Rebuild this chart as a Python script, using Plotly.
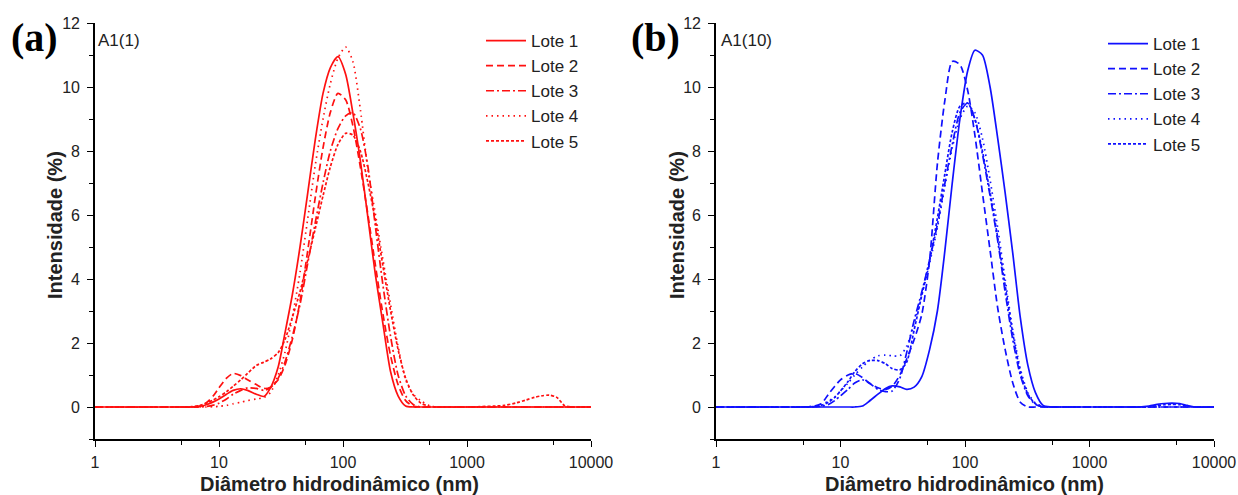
import plotly.graph_objects as go

# Diameter grid (nm)
D = [1, 5, 6, 7, 8, 9, 10, 11.5, 13, 15, 17, 20, 23, 26, 30, 34, 39, 45, 52, 60,
     69, 79, 91, 105, 120, 138, 159, 183, 210, 242, 278, 320, 368, 424, 488, 561,
     646, 1000, 2000, 2500, 3000, 3500, 4000, 4600, 5300, 6100, 7000, 10000]

SERIES_NAMES = ["Lote 1", "Lote 2", "Lote 3", "Lote 4", "Lote 5"]

# Panel (a) A1(1)
A_L1 = [0, 0, 0, 0.02, 0.08, 0.16, 0.25, 0.4, 0.52, 0.57, 0.52, 0.4, 0.33, 0.6, 1.25, 2.3, 3.5, 5.0, 6.7, 8.4,
        9.8, 10.6, 10.95, 10.4, 9.2, 7.7, 5.9, 4.1, 2.6, 1.1, 0.35, 0.03, 0, 0, 0, 0,
        0, 0, 0, 0, 0, 0, 0, 0, 0, 0, 0, 0]
A_L2 = [0, 0, 0, 0.03, 0.15, 0.35, 0.6, 0.9, 1.05, 0.98, 0.85, 0.7, 0.58, 0.62, 0.85, 1.3, 2.1, 3.3, 4.9, 6.6,
        8.1, 9.2, 9.8, 9.6, 8.8, 7.5, 6.0, 4.4, 2.9, 1.6, 0.7, 0.2, 0.03, 0, 0, 0,
        0, 0, 0, 0, 0, 0, 0, 0, 0, 0, 0, 0]
A_L3 = [0, 0, 0, 0, 0.02, 0.06, 0.12, 0.25, 0.4, 0.52, 0.6, 0.58, 0.52, 0.6, 0.9, 1.4, 2.2, 3.2, 4.5, 5.8,
        7.0, 8.0, 8.7, 9.1, 9.2, 8.7, 7.5, 5.6, 3.8, 2.2, 1.0, 0.35, 0.08, 0, 0, 0,
        0, 0, 0, 0, 0, 0, 0, 0, 0, 0, 0, 0]
A_L4 = [0, 0, 0, 0, 0, 0.01, 0.02, 0.05, 0.1, 0.15, 0.2, 0.25, 0.3, 0.45, 1.0, 1.7, 2.8, 4.2, 5.9, 7.6,
        9.0, 10.1, 10.9, 11.25, 10.8, 9.3, 7.4, 6.0, 4.6, 3.2, 1.9, 0.85, 0.4, 0.2, 0.06, 0,
        0, 0, 0, 0, 0, 0, 0, 0, 0, 0, 0, 0]
A_L5 = [0, 0, 0.01, 0.05, 0.12, 0.22, 0.32, 0.48, 0.65, 0.85, 1.05, 1.3, 1.4, 1.5, 1.7, 2.1, 2.8, 3.6, 4.6, 5.6,
        6.6, 7.5, 8.2, 8.55, 8.5, 8.0, 7.0, 5.8, 4.4, 3.0, 1.8, 0.9, 0.38, 0.12, 0.03, 0,
        0, 0, 0.05, 0.13, 0.22, 0.3, 0.35, 0.37, 0.3, 0.05, 0, 0]

# Panel (b) A1(10)
B_L1 = [0, 0, 0, 0, 0, 0, 0, 0, 0, 0.03, 0.18, 0.4, 0.58, 0.66, 0.63, 0.55, 0.62, 0.95, 1.8, 3.0,
        4.9, 7.0, 9.0, 10.5, 11.15, 11.0, 10.0, 8.4, 6.7, 4.8, 2.8, 1.3, 0.45, 0.05, 0, 0,
        0, 0, 0, 0, 0.03, 0.08, 0.11, 0.12, 0.11, 0.05, 0, 0]
B_L2 = [0, 0, 0.02, 0.1, 0.4, 0.65, 0.85, 1.0, 1.05, 0.92, 0.75, 0.6, 0.55, 0.65, 1.0, 1.5, 2.1, 2.9, 4.6, 7.6,
        9.6, 10.8, 10.7, 9.9, 8.5, 6.7, 4.9, 3.1, 1.8, 0.75, 0.15, 0, 0, 0, 0, 0,
        0, 0, 0, 0, 0, 0, 0, 0, 0, 0, 0, 0]
B_L3 = [0, 0, 0, 0.02, 0.08, 0.2, 0.35, 0.55, 0.75, 0.85, 0.75, 0.55, 0.48, 0.5, 0.9, 1.7, 2.7, 3.6, 4.6, 5.7,
        7.0, 8.2, 9.2, 9.5, 9.0, 7.9, 6.6, 5.2, 3.6, 2.1, 1.0, 0.35, 0.08, 0, 0, 0,
        0, 0, 0, 0, 0, 0, 0, 0, 0, 0, 0, 0]
B_L4 = [0, 0, 0.02, 0.08, 0.18, 0.32, 0.5, 0.75, 1.0, 1.25, 1.45, 1.6, 1.62, 1.6, 1.6, 1.9, 2.6, 3.5, 4.5, 5.6,
        6.9, 8.1, 9.0, 9.4, 9.2, 8.4, 7.1, 5.6, 4.0, 2.4, 1.2, 0.45, 0.12, 0.02, 0, 0,
        0, 0, 0, 0, 0, 0, 0, 0, 0, 0, 0, 0]
B_L5 = [0, 0, 0.01, 0.05, 0.15, 0.3, 0.5, 0.8, 1.1, 1.35, 1.45, 1.45, 1.35, 1.2, 1.16, 1.4, 2.4, 3.5, 4.6, 5.9,
        7.3, 8.6, 9.4, 9.5, 9.0, 8.0, 6.7, 5.3, 3.8, 2.3, 1.1, 0.4, 0.1, 0.01, 0, 0,
        0, 0, 0, 0, 0, 0.04, 0.07, 0.08, 0.07, 0.02, 0, 0]

X_TICKS = [1, 10, 100, 1000, 10000]
X_TICKTEXT = ["1", "10", "100", "1000", "10000"]
X_MINOR = [5, 50, 500, 5000]

RED = "#ff1010"
BLUE = "#1010ff"
DASHES = ["solid", "7px,4px", "8px,3px,2px,3px", "1.5px,4px", "3px,2px"]

W, H = 1238, 495
MT, MB = 23, 56
PH = H - MT - MB

def py(px):
    return (H - MB - px) / PH

fig = go.Figure()
for name, vals, dash in zip(SERIES_NAMES, [A_L1, A_L2, A_L3, A_L4, A_L5], DASHES):
    fig.add_trace(go.Scatter(x=D, y=vals, mode="lines", name=name, xaxis="x", yaxis="y",
                             legend="legend",
                             line=dict(color=RED, width=1.7, dash=dash, shape="spline", smoothing=0.7)))
for name, vals, dash in zip(SERIES_NAMES, [B_L1, B_L2, B_L3, B_L4, B_L5], DASHES):
    fig.add_trace(go.Scatter(x=D, y=vals, mode="lines", name=name, xaxis="x2", yaxis="y2",
                             legend="legend2",
                             line=dict(color=BLUE, width=1.7, dash=dash, shape="spline", smoothing=0.7)))

FONT = "Liberation Sans, Arial, sans-serif"

def xax(domain, anchor):
    return dict(type="log", range=[0, 4], domain=domain, anchor=anchor,
                showline=True, linecolor="black", linewidth=1.6, mirror=False,
                ticks="outside", ticklen=6, tickwidth=1.4, tickcolor="black",
                tickmode="array", tickvals=X_TICKS, ticktext=X_TICKTEXT,
                minor=dict(tickmode="array", tickvals=X_MINOR, ticks="outside", ticklen=4,
                           tickwidth=1.2, tickcolor="black", showgrid=False),
                showgrid=False, zeroline=False, automargin=False,
                tickfont=dict(family=FONT, size=16, color="#222"), ticklabelstandoff=2)

def yax(domain, anchor):
    return dict(range=[-1, 12], domain=domain, anchor=anchor,
                showline=True, linecolor="black", linewidth=1.6,
                ticks="outside", ticklen=6, tickwidth=1.4, tickcolor="black",
                tick0=0, dtick=2,
                minor=dict(dtick=1, tick0=-1, ticks="outside", ticklen=4, tickwidth=1.2,
                           tickcolor="black", showgrid=False),
                showgrid=False, zeroline=False, automargin=False,
                tickfont=dict(family=FONT, size=16, color="#222"), ticklabelstandoff=4)

XA = [95 / W, 591 / W]
XB = [716 / W, 1214 / W]

fig.update_layout(
    width=W, height=H,
    margin=dict(l=0, r=0, t=MT, b=MB, pad=0, autoexpand=False),
    paper_bgcolor="white", plot_bgcolor="white",
    showlegend=True,
    xaxis=xax(XA, "y"), yaxis=yax([0, 1], "x"),
    xaxis2=xax(XB, "y2"), yaxis2=yax([0, 1], "x2"),
    legend=dict(x=481 / W, y=py(23), xanchor="left", yanchor="top",
                bgcolor="rgba(0,0,0,0)", borderwidth=0,
                font=dict(family=FONT, size=17, color="#222"), itemwidth=40),
    legend2=dict(x=1103 / W, y=py(26), xanchor="left", yanchor="top",
                 bgcolor="rgba(0,0,0,0)", borderwidth=0,
                 font=dict(family=FONT, size=17, color="#222"), itemwidth=40),
)

ann = []
for cx, label in [(340, "Diâmetro hidrodinâmico (nm)"), (964, "Diâmetro hidrodinâmico (nm)")]:
    ann.append(dict(text="<b>" + label + "</b>", x=cx / W, y=py(484), xref="paper", yref="paper",
                    xanchor="center", yanchor="middle", showarrow=False,
                    font=dict(family=FONT, size=20, color="#222")))
for cx in [55, 677]:
    ann.append(dict(text="<b>Intensidade (%)</b>", x=cx / W, y=py(225), xref="paper", yref="paper",
                    xanchor="center", yanchor="middle", showarrow=False, textangle=-90,
                    font=dict(family=FONT, size=20, color="#222")))
for cx, label in [(34, "(a)"), (655, "(b)")]:
    ann.append(dict(text="<b>" + label + "</b>", x=cx / W, y=py(37), xref="paper", yref="paper",
                    xanchor="center", yanchor="middle", showarrow=False,
                    font=dict(family="Liberation Serif, Times New Roman, serif", size=40, color="black")))
for lx, label in [(96, "A1(1)"), (719, "A1(10)")]:
    ann.append(dict(text=label, x=lx / W, y=py(41), xref="paper", yref="paper",
                    xanchor="left", yanchor="middle", showarrow=False,
                    font=dict(family=FONT, size=17, color="#222")))
fig.update_layout(annotations=ann)

fig.write_html("out.html")
